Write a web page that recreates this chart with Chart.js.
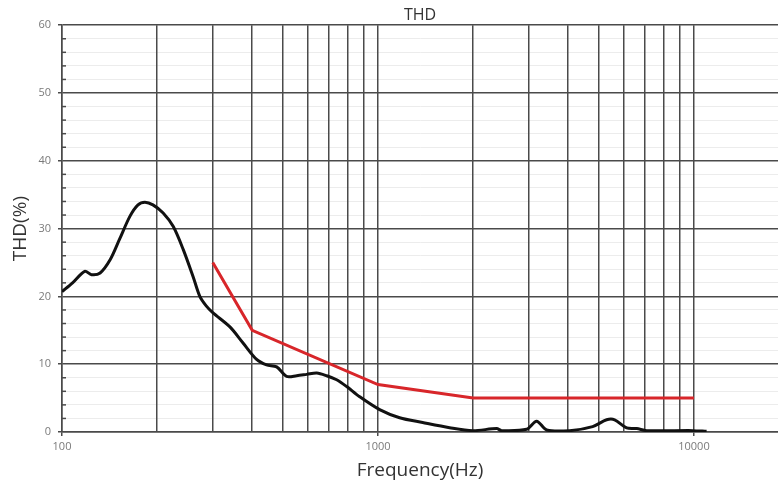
<!DOCTYPE html>
<html>
<head>
<meta charset="utf-8">
<script src="https://cdn.jsdelivr.net/npm/chart.js@4/dist/chart.umd.min.js"></script>
<style>
  html, body { margin: 0; padding: 0; background: #ffffff; }
  #wrap { width: 778px; height: 485px; position: relative; }
</style>
</head>
<body>
<div id="wrap"><canvas id="c"></canvas></div>
<script>
// ---- data ----
const thdFreq = [100, 108, 118, 124, 132, 142, 152, 164, 174, 183, 194, 209, 225, 242, 260, 273, 286, 300, 340, 373, 413, 444, 478, 514, 553, 595, 640, 688, 740, 796, 875, 1012, 1171, 1385, 1686, 1994, 2375, 2463, 2955, 3178, 3420, 4043, 4779, 5292, 5610, 6124, 6588, 7086, 9906, 10965];
const thdValues = [20.7, 22.0, 23.7, 23.2, 23.45, 25.4, 28.4, 31.8, 33.5, 33.9, 33.5, 32.3, 30.3, 26.9, 22.9, 20.0, 18.6, 17.6, 15.5, 13.2, 10.7, 9.9, 9.6, 8.2, 8.3, 8.5, 8.7, 8.3, 7.7, 6.7, 5.2, 3.3, 2.1, 1.4, 0.64, 0.2, 0.5, 0.2, 0.4, 1.6, 0.3, 0.2, 0.8, 1.8, 1.8, 0.6, 0.5, 0.2, 0.2, 0.1];
const limitFreq = [300, 400, 1000, 2000, 10000];
const limitValues = [25, 15, 7, 5, 5];
const xTickValues = [100, 200, 300, 400, 500, 600, 700, 800, 900, 1000, 2000, 3000, 4000, 5000, 6000, 7000, 8000, 9000, 10000];
const xLabelValues = [100, 1000, 10000];
const chartTitle = 'THD';
const xTitle = 'Frequency(Hz)';
const yTitle = 'THD(%)';

const GRID_DARK = '#4a4a4a';
const GRID_LIGHT = '#ececec';
const LABEL_GRAY = '#7a7a7a';

const minorTicks = {
  id: 'minorTicks',
  beforeDatasetsDraw(chart) {
    const y = chart.scales.y;
    const ctx = chart.ctx;
    const left = chart.chartArea.left;
    ctx.save();
    ctx.strokeStyle = GRID_DARK;
    ctx.lineWidth = 1.5;
    y.ticks.forEach(t => {
      if (t.value % 10 !== 0) {
        const py = y.getPixelForValue(t.value);
        ctx.beginPath();
        ctx.moveTo(left, py);
        ctx.lineTo(left + 4, py);
        ctx.stroke();
      }
    });
    ctx.restore();
  }
};

new Chart(document.getElementById('c'), {
  type: 'line',
  data: {
    datasets: [
      {
        label: 'THD',
        data: thdFreq.map((f, i) => ({ x: f, y: thdValues[i] })),
        borderColor: '#111111',
        borderWidth: 3,
        pointRadius: 0,
        tension: 0.3,
        fill: false
      },
      {
        label: 'Limit',
        data: limitFreq.map((f, i) => ({ x: f, y: limitValues[i] })),
        borderColor: '#d8262a',
        borderWidth: 3,
        pointRadius: 0,
        tension: 0,
        fill: false
      }
    ]
  },
  options: {
    responsive: true,
    maintainAspectRatio: false,
    animation: false,
    layout: { padding: 0 },
    plugins: {
      legend: { display: false },
      tooltip: { enabled: false },
      title: {
        display: true,
        text: chartTitle,
        fullSize: false,
        color: '#333333',
        font: { family: 'Open Sans', size: 16, weight: 'normal', lineHeight: 1.2 },
        padding: { top: 6, bottom: 0 }
      }
    },
    scales: {
      x: {
        type: 'logarithmic',
        min: 100,
        max: 18450,
        afterBuildTicks: (scale) => {
          scale.ticks = xTickValues.map(v => ({ value: v }));
        },
        afterFit: (scale) => { scale.height = 53; },
        border: { color: GRID_DARK, width: 1.5, z: -1 },
        grid: {
          z: -1,
          color: GRID_DARK,
          lineWidth: 1.5,
          drawTicks: true,
          tickLength: 4,
          tickColor: (ctx) => xLabelValues.includes(ctx.tick && ctx.tick.value) ? GRID_DARK : 'rgba(0,0,0,0)'
        },
        ticks: {
          autoSkip: false,
          maxRotation: 0,
          padding: 4,
          color: LABEL_GRAY,
          font: { family: 'Open Sans', size: 11 },
          callback: (v) => xLabelValues.includes(v) ? String(v) : ''
        },
        title: {
          display: true,
          text: xTitle,
          color: '#333333',
          font: { family: 'Open Sans', size: 19, lineHeight: 1.2 },
          padding: { top: 0, bottom: 3 }
        }
      },
      y: {
        type: 'linear',
        min: 0,
        max: 60,
        afterFit: (scale) => { scale.width = 62; },
        border: { color: GRID_DARK, width: 1.5, z: -1 },
        grid: {
          z: -2,
          color: (ctx) => (ctx.tick && ctx.tick.value % 10 === 0) ? GRID_DARK : GRID_LIGHT,
          lineWidth: (ctx) => (ctx.tick && ctx.tick.value % 10 === 0) ? 1.5 : 1,
          drawTicks: true,
          tickLength: 4,
          tickColor: (ctx) => (ctx.tick && ctx.tick.value % 10 === 0) ? GRID_DARK : 'rgba(0,0,0,0)'
        },
        ticks: {
          stepSize: 2,
          autoSkip: false,
          padding: 7,
          color: LABEL_GRAY,
          font: { family: 'Open Sans', size: 11 },
          callback: (v) => (v % 10 === 0) ? String(v) : ''
        },
        title: {
          display: true,
          text: yTitle,
          color: '#333333',
          font: { family: 'Open Sans', size: 19, lineHeight: 1.2 },
          padding: { top: 9, bottom: 0 }
        }
      }
    }
  },
  plugins: [minorTicks]
});
</script>
</body>
</html>
